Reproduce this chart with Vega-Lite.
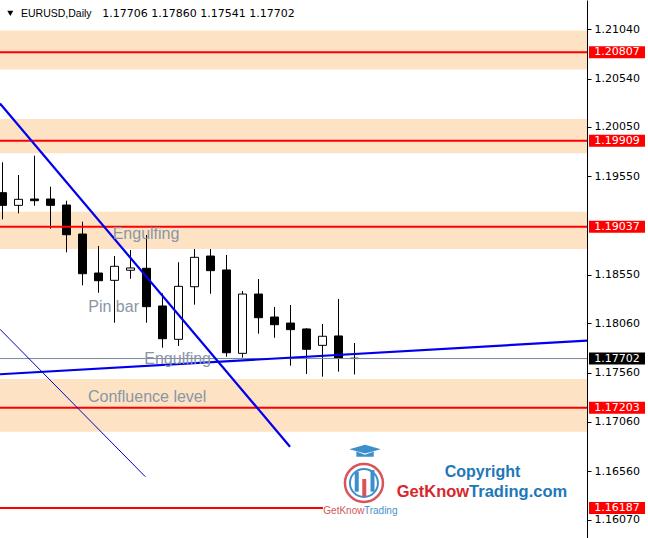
{
  "$schema": "https://vega.github.io/schema/vega-lite/v6.json",
  "width": 587,
  "height": 538,
  "autosize": {"type": "none"},
  "padding": {"left": 0, "top": 0, "right": 61, "bottom": 0},
  "background": "white",
  "config": {
    "view": {"stroke": null},
    "axis": {"grid": false, "domainColor": "#000000", "tickColor": "#000000", "tickSize": 4,
             "labelFont": "DejaVu Sans", "labelFontSize": 11, "labelColor": "#000000",
             "labelPadding": 3, "labelOverlap": false, "labelFlush": false, "labelBound": false}
  },
  "datasets": {
    "zones": [
      {"lo": 1.20632, "hi": 1.21027},
      {"lo": 1.19782, "hi": 1.20130},
      {"lo": 1.18812, "hi": 1.19190},
      {"lo": 1.16961, "hi": 1.17495}
    ],
    "candles": [
      {"i": 0, "o": 1.19383, "h": 1.19691, "l": 1.19113, "c": 1.19255},
      {"i": 1, "o": 1.19255, "h": 1.19562, "l": 1.19174, "c": 1.19316},
      {"i": 2, "o": 1.19319, "h": 1.19758, "l": 1.19251, "c": 1.19302},
      {"i": 3, "o": 1.19319, "h": 1.19444, "l": 1.19018, "c": 1.19255},
      {"i": 4, "o": 1.19258, "h": 1.19302, "l": 1.18779, "c": 1.18957},
      {"i": 5, "o": 1.18964, "h": 1.19089, "l": 1.18444, "c": 1.18562},
      {"i": 6, "o": 1.18569, "h": 1.18843, "l": 1.18369, "c": 1.18491},
      {"i": 7, "o": 1.18495, "h": 1.18741, "l": 1.18065, "c": 1.18637},
      {"i": 8, "o": 1.18597, "h": 1.18802, "l": 1.18511, "c": 1.18620},
      {"i": 9, "o": 1.18617, "h": 1.18954, "l": 1.18065, "c": 1.18228},
      {"i": 10, "o": 1.18235, "h": 1.18363, "l": 1.17812, "c": 1.17903},
      {"i": 11, "o": 1.17897, "h": 1.18678, "l": 1.17829, "c": 1.18434},
      {"i": 12, "o": 1.18430, "h": 1.18812, "l": 1.18248, "c": 1.18728},
      {"i": 13, "o": 1.18741, "h": 1.18812, "l": 1.18359, "c": 1.18593},
      {"i": 14, "o": 1.18600, "h": 1.18752, "l": 1.17721, "c": 1.17761},
      {"i": 15, "o": 1.17755, "h": 1.18387, "l": 1.17711, "c": 1.18356},
      {"i": 16, "o": 1.18356, "h": 1.18508, "l": 1.17954, "c": 1.18116},
      {"i": 17, "o": 1.18123, "h": 1.18225, "l": 1.17913, "c": 1.18045},
      {"i": 18, "o": 1.18062, "h": 1.18245, "l": 1.17630, "c": 1.17995},
      {"i": 19, "o": 1.18002, "h": 1.18009, "l": 1.17546, "c": 1.17796},
      {"i": 20, "o": 1.17836, "h": 1.18052, "l": 1.17518, "c": 1.17928},
      {"i": 21, "o": 1.17931, "h": 1.18306, "l": 1.17569, "c": 1.17705},
      {"i": 22, "o": 1.17706, "h": 1.17860, "l": 1.17541, "c": 1.17702}
    ],
    "levels": [
      {"price": 1.20807},
      {"price": 1.19909},
      {"price": 1.19037},
      {"price": 1.17203}
    ],
    "partial": [
      {"price": 1.16187, "from": -0.15625, "to": 20.03}
    ],
    "bid": [{"price": 1.17702}],
    "trend": [
      {"x1": -0.15625, "p1": 1.20287, "x2": 17.969, "p2": 1.16809},
      {"x1": -0.15625, "p1": 1.17543, "x2": 36.53125, "p2": 1.17883}
    ],
    "thin": [
      {"x1": -0.15625, "p1": 1.17999, "x2": 8.925, "p2": 1.16505}
    ],
    "labels": [
      {"x": 6.8875, "price": 1.18914, "text": "Engulfing"},
      {"x": 5.3625, "price": 1.18174, "text": "Pin bar"},
      {"x": 8.8625, "price": 1.17642, "text": "Engulfing"},
      {"x": 5.344, "price": 1.17262, "text": "Confluence level"}
    ],
    "tags": [
      {"price": 1.20807, "kind": "level"},
      {"price": 1.19909, "kind": "level"},
      {"price": 1.19037, "kind": "level"},
      {"price": 1.17203, "kind": "level"},
      {"price": 1.16187, "kind": "level"},
      {"price": 1.17702, "kind": "bid"}
    ]
  },
  "layer": [
    {
      "data": {"name": "zones"},
      "mark": {"type": "rect", "color": "#FDE3C4"},
      "encoding": {
        "y": {"field": "hi", "type": "quantitative",
              "scale": {"domain": [1.158834, 1.21336], "nice": false, "zero": false, "padding": 0},
              "axis": {"orient": "right", "values": [1.1607, 1.1656, 1.1706, 1.1756, 1.1806, 1.1855, 1.1955, 1.2005, 1.2054, 1.2104], "format": ".5f", "title": null}},
        "y2": {"field": "lo"}
      }
    },
    {
      "data": {"name": "candles"},
      "mark": {"type": "rule", "color": "#000000", "strokeWidth": 1},
      "encoding": {
        "x": {"field": "i", "type": "quantitative", "scale": {"domain": [-0.15625, 36.53125], "nice": false, "zero": false, "padding": 0}, "axis": null},
        "y": {"field": "l", "type": "quantitative", "scale": {"domain": [1.158834, 1.21336], "nice": false, "zero": false, "padding": 0},
              "axis": {"orient": "right", "values": [1.1607, 1.1656, 1.1706, 1.1756, 1.1806, 1.1855, 1.1955, 1.2005, 1.2054, 1.2104], "format": ".5f", "title": null}},
        "y2": {"field": "h"}
      }
    },
    {
      "data": {"name": "candles"},
      "mark": {"type": "bar", "width": 8, "stroke": "#000000", "strokeWidth": 1},
      "encoding": {
        "x": {"field": "i", "type": "quantitative", "scale": {"domain": [-0.15625, 36.53125], "nice": false, "zero": false, "padding": 0}, "axis": null},
        "y": {"field": "o", "type": "quantitative", "scale": {"domain": [1.158834, 1.21336], "nice": false, "zero": false, "padding": 0},
              "axis": {"orient": "right", "values": [1.1607, 1.1656, 1.1706, 1.1756, 1.1806, 1.1855, 1.1955, 1.2005, 1.2054, 1.2104], "format": ".5f", "title": null}},
        "y2": {"field": "c"},
        "fill": {"condition": {"test": "datum.c < datum.o", "value": "#000000"}, "value": "#FFFFFF"}
      }
    },
    {
      "data": {"name": "bid"},
      "mark": {"type": "rule", "color": "#778899", "strokeWidth": 1},
      "encoding": {
        "y": {"field": "price", "type": "quantitative", "scale": {"domain": [1.158834, 1.21336], "nice": false, "zero": false, "padding": 0},
              "axis": {"orient": "right", "values": [1.1607, 1.1656, 1.1706, 1.1756, 1.1806, 1.1855, 1.1955, 1.2005, 1.2054, 1.2104], "format": ".5f", "title": null}}
      }
    },
    {
      "data": {"name": "levels"},
      "mark": {"type": "rule", "color": "#FF0000", "strokeWidth": 2},
      "encoding": {
        "y": {"field": "price", "type": "quantitative", "scale": {"domain": [1.158834, 1.21336], "nice": false, "zero": false, "padding": 0},
              "axis": {"orient": "right", "values": [1.1607, 1.1656, 1.1706, 1.1756, 1.1806, 1.1855, 1.1955, 1.2005, 1.2054, 1.2104], "format": ".5f", "title": null}}
      }
    },
    {
      "data": {"name": "partial"},
      "mark": {"type": "rule", "color": "#FF0000", "strokeWidth": 2},
      "encoding": {
        "x": {"field": "from", "type": "quantitative", "scale": {"domain": [-0.15625, 36.53125], "nice": false, "zero": false, "padding": 0}, "axis": null},
        "x2": {"field": "to"},
        "y": {"field": "price", "type": "quantitative", "scale": {"domain": [1.158834, 1.21336], "nice": false, "zero": false, "padding": 0},
              "axis": {"orient": "right", "values": [1.1607, 1.1656, 1.1706, 1.1756, 1.1806, 1.1855, 1.1955, 1.2005, 1.2054, 1.2104], "format": ".5f", "title": null}}
      }
    },
    {
      "data": {"name": "trend"},
      "mark": {"type": "rule", "color": "#0000EE", "strokeWidth": 2.2},
      "encoding": {
        "x": {"field": "x1", "type": "quantitative", "scale": {"domain": [-0.15625, 36.53125], "nice": false, "zero": false, "padding": 0}, "axis": null},
        "x2": {"field": "x2"},
        "y": {"field": "p1", "type": "quantitative", "scale": {"domain": [1.158834, 1.21336], "nice": false, "zero": false, "padding": 0},
              "axis": {"orient": "right", "values": [1.1607, 1.1656, 1.1706, 1.1756, 1.1806, 1.1855, 1.1955, 1.2005, 1.2054, 1.2104], "format": ".5f", "title": null}},
        "y2": {"field": "p2"}
      }
    },
    {
      "data": {"name": "thin"},
      "mark": {"type": "rule", "color": "#0000CC", "strokeWidth": 1},
      "encoding": {
        "x": {"field": "x1", "type": "quantitative", "scale": {"domain": [-0.15625, 36.53125], "nice": false, "zero": false, "padding": 0}, "axis": null},
        "x2": {"field": "x2"},
        "y": {"field": "p1", "type": "quantitative", "scale": {"domain": [1.158834, 1.21336], "nice": false, "zero": false, "padding": 0},
              "axis": {"orient": "right", "values": [1.1607, 1.1656, 1.1706, 1.1756, 1.1806, 1.1855, 1.1955, 1.2005, 1.2054, 1.2104], "format": ".5f", "title": null}},
        "y2": {"field": "p2"}
      }
    },
    {
      "data": {"name": "labels"},
      "mark": {"type": "text", "font": "Liberation Sans", "fontSize": 16, "color": "#8896A6", "align": "left", "baseline": "alphabetic"},
      "encoding": {
        "x": {"field": "x", "type": "quantitative", "scale": {"domain": [-0.15625, 36.53125], "nice": false, "zero": false, "padding": 0}, "axis": null},
        "y": {"field": "price", "type": "quantitative", "scale": {"domain": [1.158834, 1.21336], "nice": false, "zero": false, "padding": 0},
              "axis": {"orient": "right", "values": [1.1607, 1.1656, 1.1706, 1.1756, 1.1806, 1.1855, 1.1955, 1.2005, 1.2054, 1.2104], "format": ".5f", "title": null}},
        "text": {"field": "text"}
      }
    },
    {
      "data": {"values": [{"x": 0.4875, "price": 1.21201}]},
      "mark": {"type": "point", "shape": "triangle-down", "size": 36, "filled": true, "color": "#000000", "opacity": 1},
      "encoding": {
        "x": {"field": "x", "type": "quantitative", "scale": {"domain": [-0.15625, 36.53125], "nice": false, "zero": false, "padding": 0}, "axis": null},
        "y": {"field": "price", "type": "quantitative", "scale": {"domain": [1.158834, 1.21336], "nice": false, "zero": false, "padding": 0},
              "axis": {"orient": "right", "values": [1.1607, 1.1656, 1.1706, 1.1756, 1.1806, 1.1855, 1.1955, 1.2005, 1.2054, 1.2104], "format": ".5f", "title": null}}
      }
    },
    {
      "data": {"values": [{"x": 1.156, "price": 1.21164, "text": "EURUSD,Daily"}]},
      "mark": {"type": "text", "font": "Liberation Sans", "fontSize": 10.5, "color": "#000000", "align": "left", "baseline": "alphabetic"},
      "encoding": {
        "x": {"field": "x", "type": "quantitative", "scale": {"domain": [-0.15625, 36.53125], "nice": false, "zero": false, "padding": 0}, "axis": null},
        "y": {"field": "price", "type": "quantitative", "scale": {"domain": [1.158834, 1.21336], "nice": false, "zero": false, "padding": 0},
              "axis": {"orient": "right", "values": [1.1607, 1.1656, 1.1706, 1.1756, 1.1806, 1.1855, 1.1955, 1.2005, 1.2054, 1.2104], "format": ".5f", "title": null}},
        "text": {"field": "text"}
      }
    },
    {
      "data": {"values": [{"x": 6.2375, "price": 1.21164, "text": "1.17706 1.17860 1.17541 1.17702"}]},
      "mark": {"type": "text", "font": "DejaVu Sans", "fontSize": 11, "color": "#000000", "align": "left", "baseline": "alphabetic"},
      "encoding": {
        "x": {"field": "x", "type": "quantitative", "scale": {"domain": [-0.15625, 36.53125], "nice": false, "zero": false, "padding": 0}, "axis": null},
        "y": {"field": "price", "type": "quantitative", "scale": {"domain": [1.158834, 1.21336], "nice": false, "zero": false, "padding": 0},
              "axis": {"orient": "right", "values": [1.1607, 1.1656, 1.1706, 1.1756, 1.1806, 1.1855, 1.1955, 1.2005, 1.2054, 1.2104], "format": ".5f", "title": null}},
        "text": {"field": "text"}
      }
    },
    {
      "data": {"name": "tags"},
      "mark": {"type": "tick", "orient": "horizontal", "size": 56, "thickness": 12, "opacity": 1},
      "encoding": {
        "x": {"datum": 38.406, "type": "quantitative", "scale": {"domain": [-0.15625, 36.53125], "nice": false, "zero": false, "padding": 0}, "axis": null},
        "y": {"field": "price", "type": "quantitative", "scale": {"domain": [1.158834, 1.21336], "nice": false, "zero": false, "padding": 0},
              "axis": {"orient": "right", "values": [1.1607, 1.1656, 1.1706, 1.1756, 1.1806, 1.1855, 1.1955, 1.2005, 1.2054, 1.2104], "format": ".5f", "title": null}},
        "color": {"condition": {"test": "datum.kind == 'bid'", "value": "#000000"}, "value": "#FF0000"}
      }
    },
    {
      "data": {"name": "tags"},
      "mark": {"type": "text", "font": "DejaVu Sans", "fontSize": 11, "color": "#FFFFFF", "align": "left", "baseline": "middle"},
      "encoding": {
        "x": {"datum": 36.99, "type": "quantitative", "scale": {"domain": [-0.15625, 36.53125], "nice": false, "zero": false, "padding": 0}, "axis": null},
        "y": {"field": "price", "type": "quantitative", "scale": {"domain": [1.158834, 1.21336], "nice": false, "zero": false, "padding": 0},
              "axis": {"orient": "right", "values": [1.1607, 1.1656, 1.1706, 1.1756, 1.1806, 1.1855, 1.1955, 1.2005, 1.2054, 1.2104], "format": ".5f", "title": null}},
        "text": {"field": "price", "type": "quantitative", "format": ".5f"}
      }
    },
    {
      "data": {"values": [{"x": 22.59, "price": 1.16441}]},
      "mark": {"type": "point", "shape": "circle", "size": 1444, "filled": false, "stroke": "#D9545A", "strokeWidth": 2.5, "opacity": 1},
      "encoding": {
        "x": {"field": "x", "type": "quantitative", "scale": {"domain": [-0.15625, 36.53125], "nice": false, "zero": false, "padding": 0}, "axis": null},
        "y": {"field": "price", "type": "quantitative", "scale": {"domain": [1.158834, 1.21336], "nice": false, "zero": false, "padding": 0},
              "axis": {"orient": "right", "values": [1.1607, 1.1656, 1.1706, 1.1756, 1.1806, 1.1855, 1.1955, 1.2005, 1.2054, 1.2104], "format": ".5f", "title": null}}
      }
    },
    {
      "data": {"values": [{"x": 22.59, "price": 1.16441}]},
      "mark": {"type": "point", "shape": "circle", "size": 784, "filled": false, "stroke": "#3D8FCB", "strokeWidth": 2, "opacity": 1},
      "encoding": {
        "x": {"field": "x", "type": "quantitative", "scale": {"domain": [-0.15625, 36.53125], "nice": false, "zero": false, "padding": 0}, "axis": null},
        "y": {"field": "price", "type": "quantitative", "scale": {"domain": [1.158834, 1.21336], "nice": false, "zero": false, "padding": 0},
              "axis": {"orient": "right", "values": [1.1607, 1.1656, 1.1706, 1.1756, 1.1806, 1.1855, 1.1955, 1.2005, 1.2054, 1.2104], "format": ".5f", "title": null}}
      }
    },
    {
      "data": {"values": [
        {"x": 22.14, "lo": 1.16353, "hi": 1.16555, "c": "b"},
        {"x": 22.61, "lo": 1.16302, "hi": 1.16481, "c": "r"},
        {"x": 23.125, "lo": 1.16353, "hi": 1.16572, "c": "b"}
      ]},
      "mark": {"type": "rule", "strokeWidth": 4},
      "encoding": {
        "x": {"field": "x", "type": "quantitative", "scale": {"domain": [-0.15625, 36.53125], "nice": false, "zero": false, "padding": 0}, "axis": null},
        "y": {"field": "lo", "type": "quantitative", "scale": {"domain": [1.158834, 1.21336], "nice": false, "zero": false, "padding": 0},
              "axis": {"orient": "right", "values": [1.1607, 1.1656, 1.1706, 1.1756, 1.1806, 1.1855, 1.1955, 1.2005, 1.2054, 1.2104], "format": ".5f", "title": null}},
        "y2": {"field": "hi"},
        "color": {"condition": {"test": "datum.c == 'r'", "value": "#D9545A"}, "value": "#3D8FCB"}
      }
    },
    {
      "data": {"values": [{"x": 22.66, "price": 1.16775}]},
      "mark": {"type": "point", "shape": "M-1,-0.05L0,-0.34L1,-0.05L0,0.22Z M-0.55,0.1L-0.55,0.42L0.55,0.42L0.55,0.1L0,0.3Z", "size": 1000, "filled": true, "color": "#3D8FCB", "opacity": 1},
      "encoding": {
        "x": {"field": "x", "type": "quantitative", "scale": {"domain": [-0.15625, 36.53125], "nice": false, "zero": false, "padding": 0}, "axis": null},
        "y": {"field": "price", "type": "quantitative", "scale": {"domain": [1.158834, 1.21336], "nice": false, "zero": false, "padding": 0},
              "axis": {"orient": "right", "values": [1.1607, 1.1656, 1.1706, 1.1756, 1.1806, 1.1855, 1.1955, 1.2005, 1.2054, 1.2104], "format": ".5f", "title": null}}
      }
    },
    {
      "data": {"values": [{"x": 20.05, "price": 1.16122, "text": "GetKnow"}]},
      "mark": {"type": "text", "font": "Liberation Sans", "fontSize": 10, "color": "#D2575A", "align": "left", "baseline": "alphabetic"},
      "encoding": {
        "x": {"field": "x", "type": "quantitative", "scale": {"domain": [-0.15625, 36.53125], "nice": false, "zero": false, "padding": 0}, "axis": null},
        "y": {"field": "price", "type": "quantitative", "scale": {"domain": [1.158834, 1.21336], "nice": false, "zero": false, "padding": 0},
              "axis": {"orient": "right", "values": [1.1607, 1.1656, 1.1706, 1.1756, 1.1806, 1.1855, 1.1955, 1.2005, 1.2054, 1.2104], "format": ".5f", "title": null}},
        "text": {"field": "text"}
      }
    },
    {
      "data": {"values": [{"x": 22.59, "price": 1.16122, "text": "Trading"}]},
      "mark": {"type": "text", "font": "Liberation Sans", "fontSize": 10, "color": "#4A90C8", "align": "left", "baseline": "alphabetic"},
      "encoding": {
        "x": {"field": "x", "type": "quantitative", "scale": {"domain": [-0.15625, 36.53125], "nice": false, "zero": false, "padding": 0}, "axis": null},
        "y": {"field": "price", "type": "quantitative", "scale": {"domain": [1.158834, 1.21336], "nice": false, "zero": false, "padding": 0},
              "axis": {"orient": "right", "values": [1.1607, 1.1656, 1.1706, 1.1756, 1.1806, 1.1855, 1.1955, 1.2005, 1.2054, 1.2104], "format": ".5f", "title": null}},
        "text": {"field": "text"}
      }
    },
    {
      "data": {"values": [{"x": 30.0, "price": 1.16502, "text": "Copyright"}]},
      "mark": {"type": "text", "font": "Liberation Sans", "fontSize": 16, "fontWeight": "bold", "color": "#1E78B8", "align": "center", "baseline": "alphabetic"},
      "encoding": {
        "x": {"field": "x", "type": "quantitative", "scale": {"domain": [-0.15625, 36.53125], "nice": false, "zero": false, "padding": 0}, "axis": null},
        "y": {"field": "price", "type": "quantitative", "scale": {"domain": [1.158834, 1.21336], "nice": false, "zero": false, "padding": 0},
              "axis": {"orient": "right", "values": [1.1607, 1.1656, 1.1706, 1.1756, 1.1806, 1.1855, 1.1955, 1.2005, 1.2054, 1.2104], "format": ".5f", "title": null}},
        "text": {"field": "text"}
      }
    },
    {
      "data": {"values": [{"x": 24.64, "price": 1.16294, "text": "GetKnow"}]},
      "mark": {"type": "text", "font": "Liberation Sans", "fontSize": 16.5, "fontWeight": "bold", "color": "#D7262E", "align": "left", "baseline": "alphabetic"},
      "encoding": {
        "x": {"field": "x", "type": "quantitative", "scale": {"domain": [-0.15625, 36.53125], "nice": false, "zero": false, "padding": 0}, "axis": null},
        "y": {"field": "price", "type": "quantitative", "scale": {"domain": [1.158834, 1.21336], "nice": false, "zero": false, "padding": 0},
              "axis": {"orient": "right", "values": [1.1607, 1.1656, 1.1706, 1.1756, 1.1806, 1.1855, 1.1955, 1.2005, 1.2054, 1.2104], "format": ".5f", "title": null}},
        "text": {"field": "text"}
      }
    },
    {
      "data": {"values": [{"x": 29.16, "price": 1.16294, "text": "Trading.com"}]},
      "mark": {"type": "text", "font": "Liberation Sans", "fontSize": 16.5, "fontWeight": "bold", "color": "#1E78B8", "align": "left", "baseline": "alphabetic"},
      "encoding": {
        "x": {"field": "x", "type": "quantitative", "scale": {"domain": [-0.15625, 36.53125], "nice": false, "zero": false, "padding": 0}, "axis": null},
        "y": {"field": "price", "type": "quantitative", "scale": {"domain": [1.158834, 1.21336], "nice": false, "zero": false, "padding": 0},
              "axis": {"orient": "right", "values": [1.1607, 1.1656, 1.1706, 1.1756, 1.1806, 1.1855, 1.1955, 1.2005, 1.2054, 1.2104], "format": ".5f", "title": null}},
        "text": {"field": "text"}
      }
    }
  ]
}
